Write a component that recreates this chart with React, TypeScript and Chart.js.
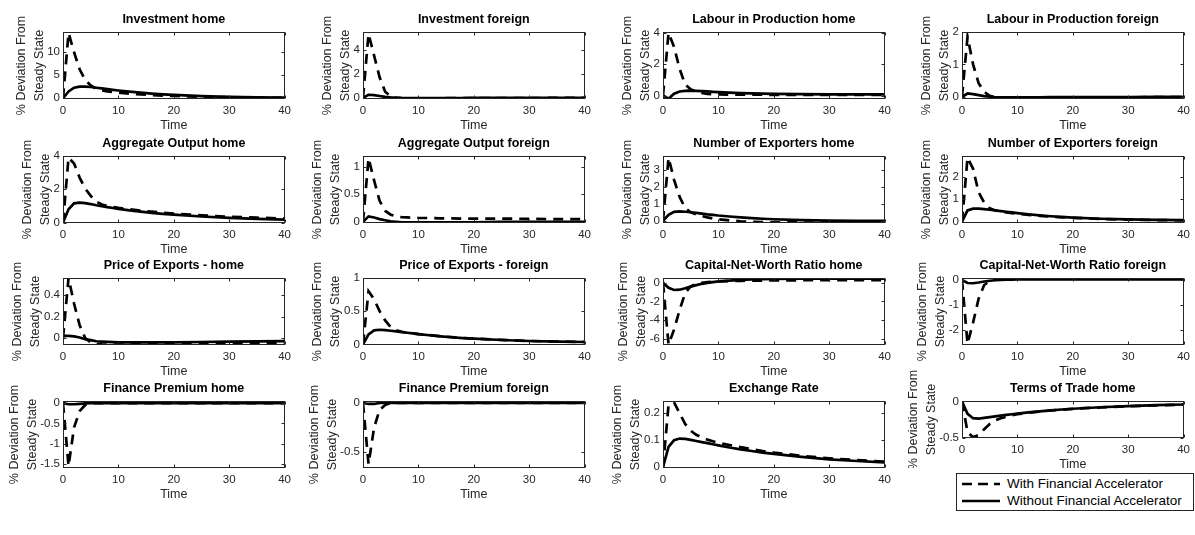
import React, { useEffect, useRef } from "react";
import { Chart, registerables } from "chart.js";
Chart.register(...registerables);

const FONT = "'Liberation Sans', Arial, Helvetica, sans-serif";

// Time axis (quarters after the shock)
const TIME = [0, 1, 2, 3, 4, 5, 6, 7, 8, 9, 10, 12, 14, 16, 18, 20, 25, 30, 35, 40];
const X_TICKS = [0, 10, 20, 30, 40];

// "With Financial Accelerator" (FA) and "Without Financial Accelerator" (NOFA)
const INV_HOME_FA = [0, 14.2, 10.0, 6.3, 4.0, 2.8, 2.1, 1.75, 1.52, 1.36, 1.22, 1.0, 0.84, 0.7, 0.59, 0.5, 0.32, 0.21, 0.14, 0.09];
const INV_HOME_NOFA = [0, 1.5, 2.3, 2.55, 2.55, 2.45, 2.3, 2.15, 2.0, 1.85, 1.7, 1.45, 1.22, 1.03, 0.87, 0.74, 0.48, 0.31, 0.2, 0.13];

const INV_FOR_FA = [0, 5.3, 3.5, 1.7, 0.5, 0.12, 0.02, -0.03, -0.05, -0.05, -0.05, -0.04, -0.04, -0.03, -0.03, -0.03, -0.02, -0.02, -0.01, -0.01];
const INV_FOR_NOFA = [0, 0.25, 0.22, 0.15, 0.08, 0.03, 0.0, -0.02, -0.03, -0.03, -0.03, -0.03, -0.02, -0.02, -0.02, -0.01, -0.01, -0.01, 0, 0];

const LAB_HOME_FA = [0, 4.0, 3.1, 1.7, 0.7, 0.4, 0.25, 0.16, 0.11, 0.08, 0.07, 0.06, 0.05, 0.05, 0.05, 0.04, 0.04, 0.04, 0.04, 0.04];
const LAB_HOME_NOFA = [0, -0.2, 0.12, 0.26, 0.3, 0.31, 0.3, 0.28, 0.26, 0.24, 0.22, 0.19, 0.16, 0.14, 0.12, 0.11, 0.09, 0.08, 0.07, 0.07];

const LAB_FOR_FA = [0, 1.85, 1.0, 0.42, 0.15, 0.03, -0.02, -0.04, -0.04, -0.04, -0.04, -0.03, -0.03, -0.03, -0.03, -0.02, -0.02, -0.02, -0.01, -0.01];
const LAB_FOR_NOFA = [0, 0.1, 0.08, 0.05, 0.02, 0.0, -0.02, -0.02, -0.02, -0.02, -0.02, -0.02, -0.02, -0.01, -0.01, -0.01, -0.01, -0.01, 0, 0];

const OUT_HOME_FA = [0, 3.9, 3.55, 2.7, 2.05, 1.6, 1.25, 1.08, 0.99, 0.93, 0.88, 0.8, 0.72, 0.65, 0.59, 0.54, 0.43, 0.35, 0.29, 0.24];
const OUT_HOME_NOFA = [0, 0.8, 1.15, 1.2, 1.17, 1.11, 1.04, 0.98, 0.92, 0.87, 0.82, 0.73, 0.65, 0.58, 0.52, 0.47, 0.36, 0.28, 0.22, 0.17];

const OUT_FOR_FA = [0, 1.15, 0.75, 0.38, 0.2, 0.13, 0.1, 0.085, 0.08, 0.075, 0.07, 0.07, 0.065, 0.065, 0.06, 0.06, 0.06, 0.055, 0.05, 0.05];
const OUT_FOR_NOFA = [0, 0.1, 0.08, 0.05, 0.03, 0.01, 0.0, -0.01, -0.01, -0.01, -0.01, -0.01, -0.01, -0.01, -0.01, -0.01, 0, 0, 0, 0];

const EXP_HOME_FA = [0, 3.7, 2.4, 1.4, 0.75, 0.5, 0.38, 0.28, 0.2, 0.14, 0.09, 0.02, -0.03, -0.06, -0.08, -0.09, -0.1, -0.1, -0.1, -0.09];
const EXP_HOME_NOFA = [0, 0.35, 0.52, 0.55, 0.53, 0.5, 0.46, 0.42, 0.38, 0.35, 0.31, 0.25, 0.2, 0.16, 0.12, 0.09, 0.04, 0.01, 0.0, -0.01];

const EXP_FOR_FA = [0, 2.85, 2.35, 1.3, 0.85, 0.6, 0.5, 0.45, 0.41, 0.38, 0.35, 0.3, 0.26, 0.22, 0.19, 0.17, 0.12, 0.09, 0.07, 0.06];
const EXP_FOR_NOFA = [0, 0.5, 0.58, 0.58, 0.56, 0.53, 0.5, 0.47, 0.44, 0.41, 0.38, 0.33, 0.28, 0.24, 0.21, 0.18, 0.13, 0.1, 0.08, 0.07];

const PX_HOME_FA = [0, 0.56, 0.32, 0.12, 0.0, -0.04, -0.055, -0.06, -0.062, -0.062, -0.062, -0.06, -0.06, -0.058, -0.056, -0.055, -0.052, -0.048, -0.045, -0.042];
const PX_HOME_NOFA = [0.02, 0.02, 0.015, 0.005, -0.01, -0.02, -0.03, -0.033, -0.036, -0.038, -0.04, -0.04, -0.04, -0.04, -0.04, -0.04, -0.037, -0.034, -0.031, -0.028];

const PX_FOR_FA = [0, 0.8, 0.68, 0.5, 0.36, 0.26, 0.21, 0.19, 0.175, 0.165, 0.155, 0.138, 0.122, 0.108, 0.096, 0.086, 0.066, 0.051, 0.041, 0.036];
const PX_FOR_NOFA = [0, 0.15, 0.21, 0.22, 0.215, 0.205, 0.195, 0.185, 0.175, 0.165, 0.155, 0.137, 0.121, 0.107, 0.095, 0.085, 0.065, 0.05, 0.04, 0.035];

const KNW_HOME_FA = [0, -6.6, -5.0, -2.9, -1.1, -0.4, -0.15, -0.02, 0.05, 0.1, 0.13, 0.17, 0.2, 0.22, 0.23, 0.24, 0.26, 0.27, 0.27, 0.27];
const KNW_HOME_NOFA = [0, -0.55, -0.78, -0.75, -0.6, -0.42, -0.26, -0.12, -0.02, 0.06, 0.13, 0.23, 0.3, 0.35, 0.38, 0.4, 0.43, 0.44, 0.44, 0.44];

const KNW_FOR_FA = [0, -2.55, -1.7, -0.75, -0.2, -0.04, 0.02, 0.04, 0.05, 0.05, 0.05, 0.05, 0.05, 0.05, 0.05, 0.05, 0.05, 0.05, 0.05, 0.05];
const KNW_FOR_NOFA = [0, -0.12, -0.13, -0.1, -0.06, -0.03, -0.01, 0.0, 0.01, 0.01, 0.02, 0.02, 0.02, 0.02, 0.02, 0.02, 0.02, 0.02, 0.02, 0.02];

const FP_HOME_FA = [0, -1.55, -0.6, -0.2, -0.05, -0.01, 0, 0, 0, 0, 0, 0, 0, 0, 0, 0, 0, 0, 0, 0];
const FP_HOME_NOFA = [0, -0.03, -0.03, -0.02, -0.01, 0, 0, 0, 0, 0, 0, 0, 0, 0, 0, 0, 0, 0, 0, 0];

const FP_FOR_FA = [0, -0.62, -0.25, -0.07, -0.02, 0, 0, 0, 0, 0, 0, 0, 0, 0, 0, 0, 0, 0, 0, 0];
const FP_FOR_NOFA = [0, -0.01, -0.01, 0, 0, 0, 0, 0, 0, 0, 0, 0, 0, 0, 0, 0, 0, 0, 0, 0];

const ER_FA = [0, 0.23, 0.24, 0.2, 0.16, 0.135, 0.12, 0.11, 0.102, 0.096, 0.09, 0.082, 0.074, 0.067, 0.06, 0.054, 0.042, 0.033, 0.026, 0.021];
const ER_NOFA = [0, 0.075, 0.1, 0.106, 0.105, 0.101, 0.097, 0.093, 0.089, 0.085, 0.081, 0.073, 0.066, 0.06, 0.054, 0.049, 0.038, 0.029, 0.023, 0.018];

const TOT_FA = [0, -0.42, -0.49, -0.46, -0.38, -0.31, -0.26, -0.23, -0.21, -0.19, -0.175, -0.155, -0.14, -0.125, -0.113, -0.102, -0.082, -0.066, -0.054, -0.045];
const TOT_NOFA = [0, -0.17, -0.23, -0.235, -0.225, -0.215, -0.205, -0.195, -0.185, -0.176, -0.167, -0.15, -0.136, -0.123, -0.111, -0.101, -0.08, -0.064, -0.052, -0.043];

// Titles and y tick labels
const TITLES = [
  "Investment home", "Investment foreign", "Labour in Production home", "Labour in Production foreign",
  "Aggregate Output home", "Aggregate Output foreign", "Number of Exporters home", "Number of Exporters foreign",
  "Price of Exports - home", "Price of Exports - foreign", "Capital-Net-Worth Ratio home", "Capital-Net-Worth Ratio foreign",
  "Finance Premium home", "Finance Premium foreign", "Exchange Rate", "Terms of Trade home",
];
const Y_TICKS = [
  [0, 5, 10], [0, 2, 4], [0, 2, 4], [0, 1, 2],
  [0, 2, 4], [0, 0.5, 1], [0, 1, 2, 3], [0, 1, 2],
  [0, 0.2, 0.4], [0, 0.5, 1], [-6, -4, -2, 0], [-2, -1, 0],
  [-1.5, -1, -0.5, 0], [-0.5, 0], [0, 0.1, 0.2], [-0.5, 0],
];
const Y_LIMITS = [
  [-0.15, 14.4], [-0.1, 5.45], [-0.22, 4.05], [-0.07, 2.0],
  [-0.03, 4.0], [-0.02, 1.19], [-0.13, 3.8], [-0.06, 2.92],
  [-0.065, 0.56], [-0.01, 1.0], [-6.65, 0.5], [-2.6, 0.08],
  [-1.6, 0.05], [-0.66, 0.02], [-0.003, 0.245], [-0.5, 0.005],
];
const FA_SERIES = [
  INV_HOME_FA, INV_FOR_FA, LAB_HOME_FA, LAB_FOR_FA,
  OUT_HOME_FA, OUT_FOR_FA, EXP_HOME_FA, EXP_FOR_FA,
  PX_HOME_FA, PX_FOR_FA, KNW_HOME_FA, KNW_FOR_FA,
  FP_HOME_FA, FP_FOR_FA, ER_FA, TOT_FA,
];
const NOFA_SERIES = [
  INV_HOME_NOFA, INV_FOR_NOFA, LAB_HOME_NOFA, LAB_FOR_NOFA,
  OUT_HOME_NOFA, OUT_FOR_NOFA, EXP_HOME_NOFA, EXP_FOR_NOFA,
  PX_HOME_NOFA, PX_FOR_NOFA, KNW_HOME_NOFA, KNW_FOR_NOFA,
  FP_HOME_NOFA, FP_FOR_NOFA, ER_NOFA, TOT_NOFA,
];
const Y_LABEL = ["% Deviation From", "Steady State"];
const X_LABEL = "Time";
const LEGEND = ["With Financial Accelerator", "Without Financial Accelerator"];

const AXIS_COLOR = "#262626";
const TICK_FONT = 11.5;
const LABEL_FONT = 12.5;
const COL_LEFT = [0, 300, 600, 899];
const ROW_TOP = [0, 124, 246, 369];
const CANVAS_W = 296;
const TOP_PAD = 32;
const X_AREA = 30;

const decorPlugin = {
  id: "matlabDecor",
  afterDraw(chart: any) {
    const ctx = chart.ctx;
    const ca = chart.chartArea;
    const xs = chart.scales.x;
    const ys = chart.scales.y;
    const title = chart.options.plugins.matlabDecor.title;
    ctx.save();
    // box
    ctx.strokeStyle = AXIS_COLOR;
    ctx.lineWidth = 1;
    const l = Math.round(ca.left) + 0.5;
    const r = Math.round(ca.right) - 0.5;
    const t = Math.round(ca.top) + 0.5;
    const b = Math.round(ca.bottom) - 0.5;
    ctx.strokeRect(l, t, r - l, b - t);
    ctx.beginPath();
    const tl = 3;
    xs.ticks.forEach((tk: any) => {
      const x = Math.round(xs.getPixelForValue(tk.value)) + 0.5;
      ctx.moveTo(x, b); ctx.lineTo(x, b - tl);
      ctx.moveTo(x, t); ctx.lineTo(x, t + tl);
    });
    ys.ticks.forEach((tk: any) => {
      const y = Math.round(ys.getPixelForValue(tk.value)) + 0.5;
      ctx.moveTo(l, y); ctx.lineTo(l + tl, y);
      ctx.moveTo(r, y); ctx.lineTo(r - tl, y);
    });
    ctx.stroke();
    // title
    const cx = (ca.left + ca.right) / 2;
    ctx.fillStyle = "#000";
    ctx.font = `bold ${LABEL_FONT}px ${FONT}`;
    ctx.textAlign = "center";
    ctx.textBaseline = "middle";
    ctx.fillText(title, cx, ca.top - 12);
    // x label
    ctx.fillStyle = AXIS_COLOR;
    ctx.font = `${LABEL_FONT}px ${FONT}`;
    ctx.fillText(X_LABEL, cx, ca.bottom + 27);
    // y label
    ctx.font = `${TICK_FONT}px ${FONT}`;
    let maxW = 0;
    ys.ticks.forEach((tk: any) => {
      const w = ctx.measureText(String(tk.label)).width;
      if (w > maxW) maxW = w;
    });
    const x2 = ca.left - maxW - 11;
    const x1 = x2 - 18;
    const cy = (ca.top + ca.bottom) / 2;
    ctx.font = `${LABEL_FONT}px ${FONT}`;
    [x1, x2].forEach((x, i) => {
      ctx.save();
      ctx.translate(x, cy);
      ctx.rotate(-Math.PI / 2);
      ctx.fillText(Y_LABEL[i], 0, 0);
      ctx.restore();
    });
    ctx.restore();
  },
};

function Panel({ idx }: { idx: number }) {
  const ref = useRef<HTMLCanvasElement>(null);
  const plotH = idx === 15 ? 37 : 67;
  const H = TOP_PAD + plotH + X_AREA;
  useEffect(() => {
    const fa = FA_SERIES[idx];
    const nofa = NOFA_SERIES[idx];
    const yt = Y_TICKS[idx];
    const chart = new Chart(ref.current as HTMLCanvasElement, {
      type: "line",
      data: {
        datasets: [
          {
            label: LEGEND[1],
            data: TIME.map((t, i) => ({ x: t, y: nofa[i] })),
            borderColor: "#000",
            borderWidth: 2.7,
            pointRadius: 0,
            fill: false,
            tension: 0,
          },
          {
            label: LEGEND[0],
            data: TIME.map((t, i) => ({ x: t, y: fa[i] })),
            borderColor: "#000",
            borderWidth: 2.7,
            borderDash: [10, 7],
            pointRadius: 0,
            fill: false,
            tension: 0,
          },
        ],
      },
      options: {
        responsive: false,
        animation: false,
        devicePixelRatio: 1,
        events: [],
        layout: { padding: { top: TOP_PAD, right: 5, left: 0, bottom: 0 } },
        plugins: {
          legend: { display: false },
          tooltip: { enabled: false },
          title: { display: false },
          matlabDecor: { title: TITLES[idx] },
        } as any,
        scales: {
          x: {
            type: "linear",
            min: 0,
            max: 40,
            grid: { display: false, drawTicks: false },
            border: { display: false },
            afterBuildTicks: (s: any) => { s.ticks = X_TICKS.map((v) => ({ value: v })); },
            afterFit: (s: any) => { s.height = X_AREA; },
            ticks: {
              font: { family: FONT, size: TICK_FONT },
              color: AXIS_COLOR,
              padding: 5,
              maxRotation: 0,
              autoSkip: false,
              callback: (v: any) => String(Number(v)),
            },
          },
          y: {
            type: "linear",
            min: Y_LIMITS[idx][0],
            max: Y_LIMITS[idx][1],
            grid: { display: false, drawTicks: false },
            border: { display: false },
            afterBuildTicks: (s: any) => { s.ticks = yt.map((v) => ({ value: v })); },
            afterFit: (s: any) => { s.width = 63; },
            ticks: {
              font: { family: FONT, size: TICK_FONT },
              color: AXIS_COLOR,
              padding: 3,
              autoSkip: false,
              callback: (v: any) => String(Number(v)),
            },
          },
        },
      },
      plugins: [decorPlugin],
    });
    return () => chart.destroy();
  }, [idx]);
  const col = idx % 4;
  const row = Math.floor(idx / 4);
  return (
    <canvas
      ref={ref}
      width={CANVAS_W}
      height={H}
      style={{ position: "absolute", left: COL_LEFT[col], top: ROW_TOP[row], width: CANVAS_W, height: H }}
    />
  );
}

function LegendBox() {
  const row = (dash: boolean, text: string) => (
    <div style={{ display: "flex", alignItems: "center", height: 17 }}>
      <svg width={46} height={10} style={{ flex: "0 0 auto" }}>
        <line x1={5} y1={5} x2={43} y2={5} stroke="#000" strokeWidth={2.7} strokeDasharray={dash ? "10 6" : undefined} />
      </svg>
      <span style={{ marginLeft: 4, whiteSpace: "nowrap" }}>{text}</span>
    </div>
  );
  return (
    <div
      style={{
        position: "absolute",
        left: 956,
        top: 473,
        width: 238,
        height: 38,
        border: `1px solid ${AXIS_COLOR}`,
        boxSizing: "border-box",
        background: "#fff",
        fontFamily: FONT,
        fontSize: 13.5,
        color: "#000",
        paddingTop: 1,
      }}
    >
      {row(true, LEGEND[0])}
      {row(false, LEGEND[1])}
    </div>
  );
}

export default function App() {
  return (
    <div style={{ position: "absolute", left: 0, top: 0, width: 1195, height: 535, background: "#fff", overflow: "hidden" }}>
      {TITLES.map((_, i) => (
        <Panel key={i} idx={i} />
      ))}
      <LegendBox />
    </div>
  );
}
